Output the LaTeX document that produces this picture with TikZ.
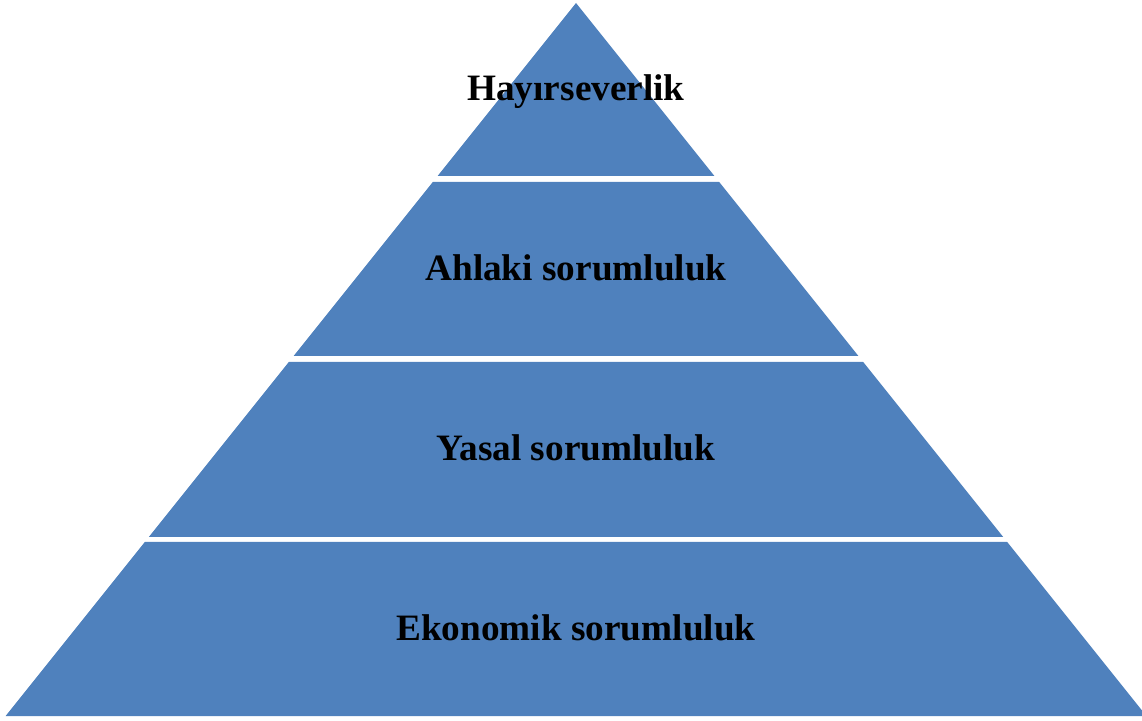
\documentclass[tikz,border=0pt]{standalone}
\usepackage{fontspec}
\setmainfont{Liberation Serif}
\begin{document}
\begin{tikzpicture}[x=0.02cm,y=0.02cm,
    layer/.style={fill=layerblue},
    label/.style={anchor=base,inner sep=0pt,font=\bfseries\fontsize{21.2}{25}\selectfont}]
     % Define colors
        \definecolor{layerblue}{RGB}{79, 129, 189} % Office blue

        % Picture frame
        \useasboundingbox (0,0) rectangle (1142,720);
        \clip (0,0) rectangle (1142,720);

        % Draw the four layers of the pyramid
        \fill[layer] (576,717) -- (714.4,544) -- (437.6,544) -- cycle; % top
        \fill[layer] (432.8,538) -- (719.2,538) -- (858.4,364) -- (293.6,364) -- cycle; % second
        \fill[layer] (288.8,358) -- (863.2,358) -- (1003.2,183) -- (148.8,183) -- cycle; % third
        \fill[layer] (144.8,178) -- (1007.2,178) -- (1146.4,4) -- (5.6,4) -- cycle; % base

        % Add text labels
        \node[label] (hayir) at (576,619) {Hayırseverlik};
        \node[label] (ahlak) at (576,439) {Ahlaki sorumluluk};
        \node[label] (yasal) at (576,259) {Yasal sorumluluk};
        \node[label] (ekonomi) at (576,80) {Ekonomik sorumluluk};
    \end{tikzpicture}
\end{document}
